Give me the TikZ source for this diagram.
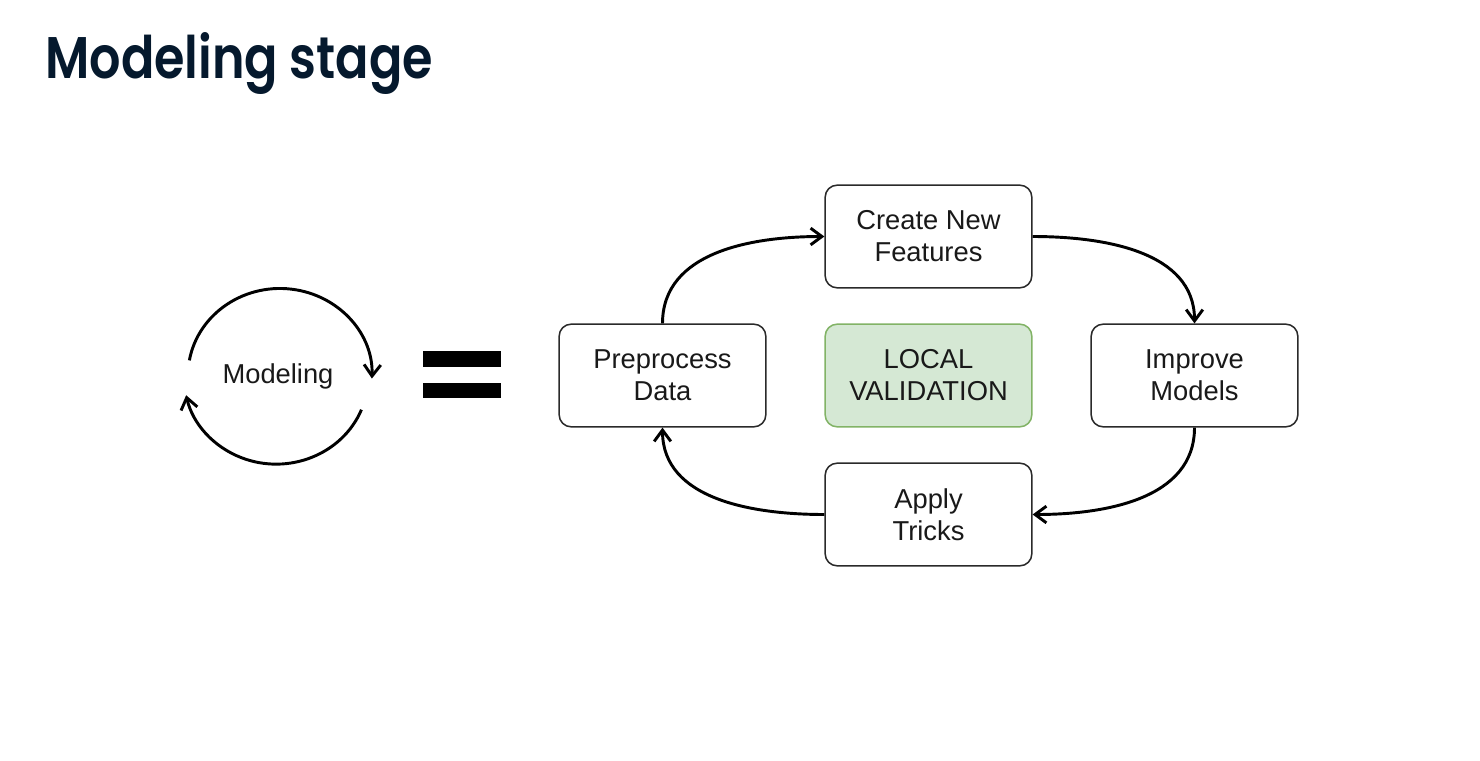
\documentclass[tikz,border=0pt]{standalone}
\usepackage{fontspec}
\setmainfont{Liberation Sans}
\newfontfamily\titlefont{Poppins SemiBold}[FakeStretch=0.84]
\usetikzlibrary{arrows.meta}
\definecolor{navy}{HTML}{05192D}
\definecolor{valfill}{HTML}{D5E8D4}
\definecolor{valdraw}{HTML}{82B366}
\definecolor{boxdraw}{HTML}{2A2A2A}
\tikzset{
  stepbox/.style={draw=boxdraw, line width=1.15pt, rounded corners=9pt, fill=white,
    minimum width=155pt, minimum height=77pt, align=center, inner sep=0pt,
    font=\fontsize{20.5pt}{24pt}\selectfont, text=black!90},
  valbox/.style={stepbox, draw=valdraw, fill=valfill},
  flow/.style={line width=2.2pt, -{Straight Barb[length=8.5pt,width=12.5pt]}},
  cyc/.style={line width=2.2pt, -{Straight Barb[length=8.5pt,width=12.5pt]}},
  bar/.style={fill=black, draw=none}
}
\begin{document}
\begin{tikzpicture}[x=0.75pt,y=0.75pt]
\useasboundingbox[fill=white] (0,0) rectangle (1480,-760);
\node[anchor=base west, inner sep=0pt, text=navy, font=\titlefont\fontsize{44pt}{48pt}\selectfont] (title) at (45,-78) {Modeling stage};

% left cycle
\coordinate (cc) at (278,-376);
\node[font=\fontsize{20.5pt}{24pt}\selectfont, text=black!90] (modeling) at (cc) {Modeling};
\draw[cyc] (cc) ++(170:90) arc[start angle=170, end angle=-2, x radius=92, y radius=87];
\draw[cyc] (cc) ++(-22:90) arc[start angle=-22, end angle=-168, x radius=92, y radius=87];

% equals
\fill[bar] (423,-351) rectangle (501,-367);
\fill[bar] (423,-383) rectangle (501,-398);

% boxes
\node[stepbox] (cnf) at (928.5,-236.5) {Create New\\Features};
\node[stepbox] (pre) at (662.5,-375.5) {Preprocess\\Data};
\node[valbox]  (val) at (928.5,-375.5) {LOCAL\\VALIDATION};
\node[stepbox] (imp) at (1194.5,-375.5) {Improve\\Models};
\node[stepbox] (app) at (928.5,-514.5) {Apply\\Tricks};

\draw[flow] (pre.north) to[out=90, in=180] (cnf.west);
\draw[flow] (cnf.east) to[out=0, in=90] (imp.north);
\draw[flow] (imp.south) to[out=-90, in=0] (app.east);
\draw[flow] (app.west) to[out=180, in=-90] (pre.south);
\end{tikzpicture}
\end{document}
